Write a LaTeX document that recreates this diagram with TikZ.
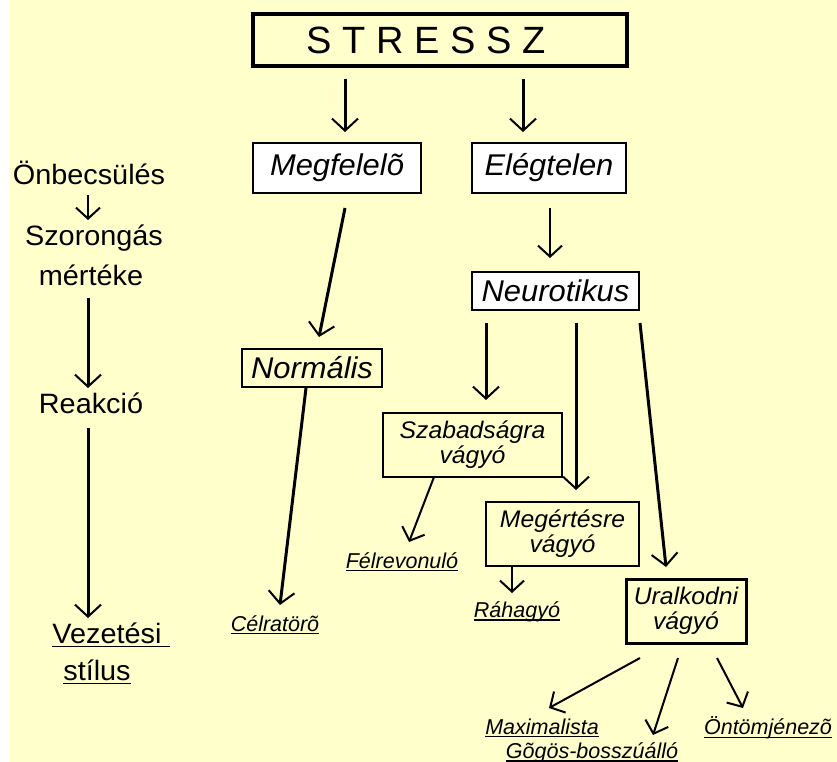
\documentclass[tikz,border=0pt]{standalone}
\usepackage{fontspec}
\setmainfont{Liberation Sans}
\newfontfamily\widesf{Liberation Sans}[FakeStretch=1.03]
\usetikzlibrary{arrows.meta}
\definecolor{paper}{RGB}{255,255,204}
% underline with a fixed depth
\newcommand{\ulbar}[1]{\setbox0\hbox{#1}\rlap{\rule[-3pt]{\wd0}{1.2pt}}\box0}

\tikzset{
  bigbox/.style={draw, line width=4.5pt, inner sep=0pt, outer sep=0pt,
    font=\fontsize{38}{40}\selectfont},
  box/.style={draw, line width=2pt, inner sep=0pt, outer sep=0pt, align=center,
    font=\widesf\itshape\fontsize{30}{32}\selectfont},
  twobox/.style={box, font=\widesf\itshape\fontsize{24}{25}\selectfont},
  leaf/.style={inner sep=0pt, font=\itshape\fontsize{21.5}{23}\selectfont},
  side/.style={inner sep=0pt, font=\widesf\fontsize{28}{30}\selectfont},
  bigarr/.style={line width=3pt, -{Straight Barb[length=12pt,width=26pt,line width=2pt]}},
  smallarr/.style={line width=2pt, -{Straight Barb[length=11pt,width=24pt,line width=2pt]}}
}

\begin{document}
\begin{tikzpicture}[x=1pt,y=-1pt]
  \useasboundingbox (0,0) rectangle (837,762);
  \fill[paper] (10,0) rectangle (837,762);

  % boxes
  \node[bigbox, minimum width=374pt, minimum height=52pt] (stressz) at (440,40) {S T R E S S Z\hspace*{28pt}};
  \node[box, fill=white, minimum width=168pt, minimum height=50pt] (megf) at (337,168) {Megfelelõ};
  \node[box, fill=white, minimum width=154pt, minimum height=50pt] (eleg) at (549,168) {Elégtelen};
  \node[box, fill=white, minimum width=167pt, minimum height=38pt] (neuro) at (555.5,291) {Neurotikus};
  \node[box, minimum width=140pt, minimum height=38pt] (normal) at (312,368) {Normális};
  \node[twobox, minimum width=179pt, minimum height=64pt] (szabad) at (472.5,445) {Szabadságra\\vágyó};
  \node[twobox, minimum width=153pt, minimum height=64pt] (megert) at (562.5,534) {Megértésre\\vágyó};
  \node[twobox, line width=3pt, minimum width=120pt, minimum height=64pt] (uralk) at (686,611) {Uralkodni\\vágyó};

  % leaves
  \node[leaf] (celra) at (275,625) {\ulbar{Célratörõ}};
  \node[leaf] (felre) at (402,562) {\ulbar{Félrevonuló}};
  \node[leaf] (raha) at (517,612) {\ulbar{Ráhagyó}};
  \node[leaf] (maxi) at (542,728) {\ulbar{Maximalista}};
  \node[leaf] (gogos) at (592,753) {\ulbar{Gõgös-bosszúálló}};
  \node[leaf] (ontom) at (768,728) {\ulbar{Öntömjénezõ}};

  % left column
  \node[side] (onbe) at (89,173) {Önbecsülés};
  \node[side] (szor) at (94,238) {Szorongás};
  \node[side] (mert) at (91,275) {mértéke};
  \node[side] (reak) at (91,403) {Reakció};
  \node[side] (vez) at (111,635) {\ulbar{Vezetési\ }};
  \node[side] (stil) at (97,672) {\ulbar{stílus}};

  % arrows
  \draw[bigarr] ([xshift=-95pt,yshift=-13pt]stressz.south) -- ([xshift=8pt,yshift=11pt]megf.north);
  \draw[bigarr] ([xshift=83pt,yshift=-13pt]stressz.south) -- ([xshift=-26pt,yshift=11pt]eleg.north);
  \draw[bigarr] ([xshift=8pt,yshift=-15pt]megf.south) -- ([xshift=7pt,yshift=12pt]normal.north);
  \draw[smallarr] ([xshift=1pt,yshift=-15pt]eleg.south) -- ([xshift=-5.5pt,yshift=14pt]neuro.north);
  \draw[bigarr] ([xshift=-69.5pt,yshift=-13pt]neuro.south) -- ([xshift=13.5pt,yshift=13pt]szabad.north);
  \draw[bigarr] ([xshift=20.5pt,yshift=-13pt]neuro.south) -- ([xshift=13.5pt,yshift=12pt]megert.north);
  \draw[bigarr] ([xshift=84.5pt,yshift=-13pt]neuro.south) -- ([xshift=-20pt,yshift=12pt]uralk.north);
  \draw[bigarr] ([xshift=-6pt,yshift=-1pt]normal.south) -- ([xshift=5pt,yshift=20pt]celra.center);
  \draw[smallarr] ([xshift=-38.5pt]szabad.south) -- ([xshift=7pt,yshift=20pt]felre.center);
  \draw[smallarr] ([xshift=-50.5pt,yshift=-1pt]megert.south) -- ([xshift=-5pt,yshift=19pt]raha.center);
  \draw[smallarr] ([xshift=-46pt,yshift=-15pt]uralk.south) -- ([xshift=7pt,yshift=20pt]maxi.center);
  \draw[smallarr] ([xshift=-8pt,yshift=-15pt]uralk.south) -- ([xshift=61pt,yshift=18pt]gogos.center);
  \draw[smallarr] ([xshift=31pt,yshift=-15pt]uralk.south) -- ([xshift=-25pt,yshift=20pt]ontom.center);

  \draw[smallarr] ([xshift=-1pt,yshift=-22pt]onbe.center) -- ([xshift=-6pt,yshift=18pt]szor.center);
  \draw[bigarr] ([xshift=-3pt,yshift=-23pt]mert.center) -- ([xshift=-3pt,yshift=15pt]reak.center);
  \draw[bigarr] ([xshift=-3pt,yshift=-25pt]reak.center) -- ([xshift=-23pt,yshift=17pt]vez.center);
\end{tikzpicture}
\end{document}
